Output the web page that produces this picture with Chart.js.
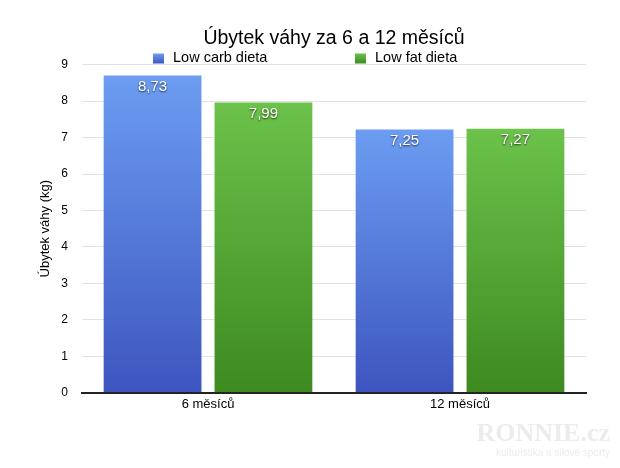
<!DOCTYPE html>
<html>
<head>
<meta charset="utf-8">
<script src="https://cdn.jsdelivr.net/npm/chart.js@4/dist/chart.umd.min.js"></script>
<style>
  body { margin: 0; background: #fff; }
  #wrap { position: relative; width: 620px; height: 468px; }
  .mark { position: absolute; right: 10px; color: #ececec; font-family: 'Liberation Serif', serif; }
</style>
</head>
<body>
<div id="wrap">
  <canvas id="myChart" width="620" height="468"></canvas>
  <div class="mark" style="top:418px; font-size:26px; font-weight:bold;">RONNIE.cz</div>
  <div class="mark" style="top:447px; font-size:10px; font-family:'Liberation Sans', sans-serif;">kulturistika a silové sporty</div>
</div>
<script>
const labels = ['6 měsíců', '12 měsíců'];
const lowCarb = [8.73, 7.25];
const lowFat = [7.99, 7.27];
const seriesNames = ['Low carb dieta', 'Low fat dieta'];
const yTicks = [0, 1, 2, 3, 4, 5, 6, 7, 8, 9];

Chart.defaults.font.family = "'Liberation Sans', Arial, sans-serif";
Chart.defaults.color = '#111';

// top, bottom colours of each series
const blue = ['#6c9df2', '#3d55bf'];
const green = ['#6cc24a', '#3d8a21'];

function barFill(colors) {
    return function (context) {
        var chart = context.chart;
        if (!chart.chartArea || context.parsed == null) return colors[1];
        var y = chart.scales.y;
        var top = y.getPixelForValue(context.parsed.y);
        var bottom = y.getPixelForValue(0);
        var g = chart.ctx.createLinearGradient(0, top, 0, bottom);
        g.addColorStop(0, colors[0]);
        g.addColorStop(1, colors[1]);
        return g;
    };
}

// value labels inside the bars
const valueLabels = {
    id: 'valueLabels',
    afterDatasetsDraw(chart) {
        var ctx = chart.ctx;
        ctx.save();
        ctx.font = "15px 'Liberation Sans', Arial, sans-serif";
        ctx.fillStyle = '#fff';
        ctx.textAlign = 'center';
        ctx.textBaseline = 'middle';
        ctx.shadowColor = 'rgba(0,0,0,0.75)';
        ctx.shadowBlur = 2;
        ctx.shadowOffsetY = 1;
        chart.data.datasets.forEach(function (ds, i) {
            chart.getDatasetMeta(i).data.forEach(function (bar, j) {
                var txt = ds.data[j].toFixed(2).replace('.', ',');
                ctx.fillText(txt, bar.x, bar.y + 12);
            });
        });
        ctx.restore();
    }
};

// legend drawn under the title, spread like the original
const topLegend = {
    id: 'topLegend',
    afterDraw(chart, args, opts) {
        var ctx = chart.ctx;
        var colors = [blue, green];
        ctx.save();
        ctx.font = "14.5px 'Liberation Sans', Arial, sans-serif";
        ctx.textBaseline = 'middle';
        ctx.fillStyle = '#000';
        chart.data.datasets.forEach(function (ds, i) {
            var x = opts.x[i];
            var g = ctx.createLinearGradient(0, opts.y - 5, 0, opts.y + 5);
            g.addColorStop(0, colors[i][0]);
            g.addColorStop(1, colors[i][1]);
            ctx.fillStyle = g;
            ctx.fillRect(x, opts.y - 5, 11, 10);
            ctx.fillStyle = '#000';
            ctx.fillText(ds.label, x + 20, opts.y - 0.5);
        });
        ctx.restore();
    }
};

new Chart(document.getElementById('myChart'), {
    type: 'bar',
    data: {
        labels: labels,
        datasets: [{
                label: seriesNames[0],
                data: lowCarb,
                backgroundColor: barFill(blue),
                borderColor: 'rgba(255,255,255,0.18)',
                borderWidth: 1,
                categoryPercentage: 0.88,
                barPercentage: 0.9
            }, {
                label: seriesNames[1],
                data: lowFat,
                backgroundColor: barFill(green),
                borderColor: 'rgba(255,255,255,0.18)',
                borderWidth: 1,
                categoryPercentage: 0.88,
                barPercentage: 0.9
            }]
    },
    options: {
        responsive: false,
        animation: false,
        layout: {padding: {top: 0, right: 34, bottom: 0, left: 0}},
        plugins: {
            legend: {display: false},
            tooltip: {enabled: true},
            title: {
                display: true,
                text: 'Úbytek váhy za 6 a 12 měsíců',
                fullSize: false,
                color: '#000',
                font: {size: 19.5, weight: 'normal'},
                padding: {top: 26.5, bottom: 14.8}
            },
            topLegend: {x: [153, 355], y: 58.5}
        },
        scales: {
            x: {
                grid: {display: false, drawTicks: false},
                border: {display: true, color: '#222', width: 2},
                ticks: {padding: 4, color: '#000', font: {size: 13}},
                afterFit: function (scale) { scale.height = 75.3; }
            },
            y: {
                min: 0,
                max: 9,
                afterBuildTicks: function (scale) {
                    scale.ticks = yTicks.map(function (v) { return {value: v}; });
                },
                grid: {
                    drawTicks: false,
                    color: function (c) { return c.tick && c.tick.value === 0 ? 'rgba(0,0,0,0)' : '#e2e2e2'; }
                },
                border: {display: false},
                ticks: {padding: 14, color: '#000', font: {size: 12}},
                title: {
                    display: true,
                    text: 'Úbytek váhy (kg)',
                    color: '#000',
                    font: {size: 13},
                    padding: {top: 37.7, bottom: 0}
                },
                afterFit: function (scale) { scale.width = 82; }
            }
        }
    },
    plugins: [valueLabels, topLegend]
});
</script>
</body>
</html>
